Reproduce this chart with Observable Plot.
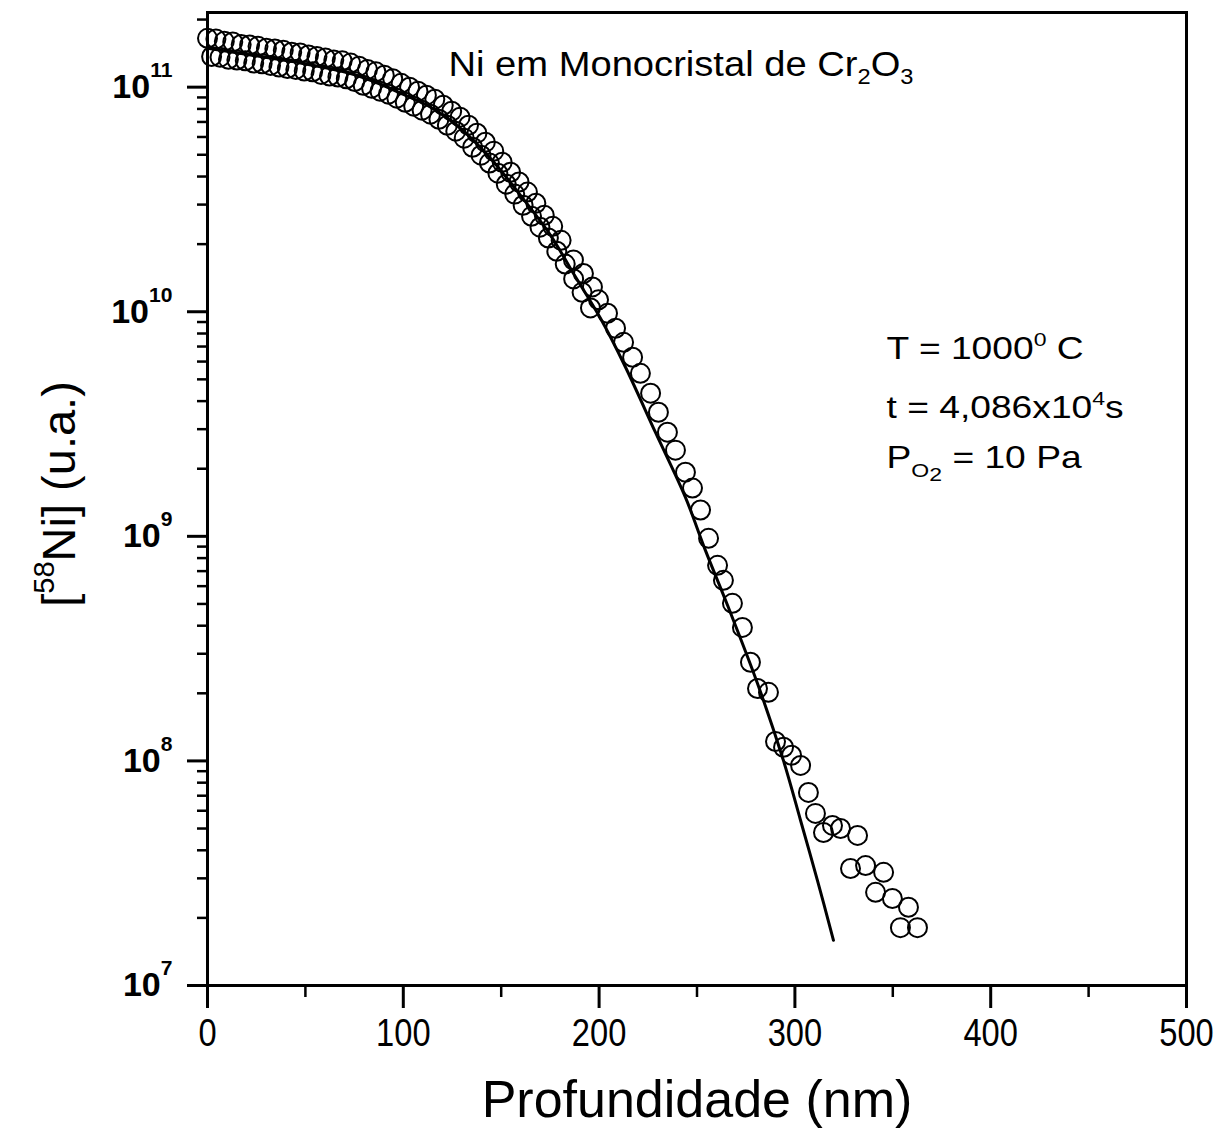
<!DOCTYPE html>
<html>
<head>
<meta charset="utf-8">
<script src="https://cdn.jsdelivr.net/npm/d3@7"></script>
<script src="https://cdn.jsdelivr.net/npm/@observablehq/plot@0.6"></script>
<style>
  html, body { margin: 0; padding: 0; background: #fff; }
  #chart { width: 1228px; height: 1142px; }
</style>
</head>
<body>
<div id="chart"></div>
<script>
// ---- data (depth in nm, concentration in a.u.) ----
const depthA = [0,4.3,8.6,12.9,17.2,21.5,25.8,30.1,34.4,38.7,43.0,47.3,51.6,55.9,60.2,64.5,68.8,73.1,77.4,81.7,86.0,90.3,94.6,98.9,103.2,107.5,111.8,116.1,120.4,124.7,129.0,133.3,137.6,141.9,146.2,150.5,154.8,159.1,163.4,167.7,172.0,176.3,180.6,
  186.9,192.0,196.6,199.7,204.3,208.4,212.5,217.1,221.1,226.3,230.3,234.9,239.0,244.1,247.7,251.8,255.9,260.5,263.5,268.1,273.2,277.3,280.9,286.5,290.1,294.2,298.3,302.9,306.9,310.5,314.6,319.2,323.3,328.4,332.0,336.1,341.2,345.3,349.8,353.9,358.0,362.6];
const concA = [1.65e11,1.64e11,1.60e11,1.59e11,1.55e11,1.54e11,1.52e11,1.49e11,1.48e11,1.46e11,1.43e11,1.42e11,1.39e11,1.37e11,1.35e11,1.32e11,1.31e11,1.28e11,1.24e11,1.20e11,1.17e11,1.13e11,1.09e11,1.04e11,1.00e11,9.60e10,9.21e10,8.84e10,8.31e10,7.82e10,7.35e10,6.77e10,6.24e10,5.69e10,5.19e10,4.63e10,4.18e10,3.78e10,3.41e10,3.04e10,2.69e10,2.40e10,2.08e10,
  1.70e10,1.48e10,1.29e10,1.13e10,9.85e9,8.44e9,7.31e9,6.27e9,5.32e9,4.34e9,3.57e9,2.91e9,2.42e9,1.93e9,1.64e9,1.31e9,9.80e8,7.43e8,6.37e8,5.03e8,3.93e8,2.75e8,2.10e8,2.02e8,1.22e8,1.15e8,1.06e8,9.55e7,7.24e7,5.84e7,4.80e7,5.16e7,5.00e7,3.32e7,4.66e7,3.42e7,2.60e7,3.19e7,2.44e7,1.81e7,2.23e7,1.81e7];

const depthB = [2.1,6.4,10.7,15.0,19.3,23.6,27.9,32.2,36.5,40.8,45.1,49.4,53.7,58.0,62.3,66.6,70.9,75.2,79.5,83.8,88.1,92.4,96.7,101.0,105.3,109.6,113.9,118.2,122.5,126.8,131.1,135.4,139.7,144.0,148.3,152.6,156.9,161.2,165.5,169.8,174.1,178.4,182.7,187.0,191.3,195.6];
const concB = [1.37e11,1.36e11,1.33e11,1.32e11,1.31e11,1.28e11,1.27e11,1.25e11,1.23e11,1.21e11,1.20e11,1.18e11,1.17e11,1.14e11,1.12e11,1.11e11,1.09e11,1.06e11,1.02e11,9.90e10,9.60e10,9.31e10,8.93e10,8.57e10,8.23e10,7.90e10,7.58e10,7.20e10,6.77e10,6.37e10,5.93e10,5.40e10,4.98e10,4.59e10,4.14e10,3.70e10,3.34e10,2.98e10,2.66e10,2.38e10,2.13e10,1.86e10,1.63e10,1.40e10,1.22e10,1.04e10];

const fitDepth = [0,22.0,47.5,73.0,88.4,98.6,114.9,129.2,144.5,159.8,175.2,186.9,200.7,213.5,228.8,244.1,254.3,265.6,280.9,294.2,302.9,311.5,319.7];
const fitConc  = [1.49e11,1.39e11,1.28e11,1.15e11,1.03e11,9.40e10,8.06e10,6.56e10,4.83e10,3.30e10,2.19e10,1.48e10,9.35e9,5.66e9,2.90e9,1.49e9,8.66e8,4.93e8,2.21e8,1.00e8,5.43e7,2.94e7,1.59e7];

const xTicks = [0,100,200,300,400,500];
const xMinorTicks = [50,150,250,350,450];
const yTicks = [1e7,1e8,1e9,1e10,1e11];
const yMinorTicks = [2e7,3e7,4e7,5e7,6e7,7e7,8e7,9e7,2e8,3e8,4e8,5e8,6e8,7e8,8e8,9e8,2e9,3e9,4e9,5e9,6e9,7e9,8e9,9e9,2e10,3e10,4e10,5e10,6e10,7e10,8e10,9e10,2e11];

const xLabel = "Profundidade (nm)";
const yLabel = "[^{58}Ni] (u.a.)";
const titleText = "Ni em Monocristal de Cr_{2}O_{3}";
const condTexts = ["T = 1000^{0} C", "t = 4,086x10^{4}s", "P_{O}~{2} = 10 Pa"];

// ---- tables built from the arrays ----
const rowsA = depthA.map((d, i) => ({depth: d, conc: concA[i]}));
const rowsB = depthB.map((d, i) => ({depth: d, conc: concB[i]}));
const fitRows = fitDepth.map((d, i) => ({depth: d, conc: fitConc[i]}));

const chart = Plot.plot({
  width: 1228,
  height: 1142,
  marginLeft: 207,
  marginRight: 42,
  marginTop: 12,
  marginBottom: 157,
  style: {fontFamily: "'Liberation Sans', Arial, sans-serif", background: "#fff", color: "#000"},
  x: {domain: [0, 500]},
  y: {type: "log", domain: [1e7, 2.15e11]},
  marks: [
    Plot.line(fitRows, {x: "depth", y: "conc", stroke: "#000", strokeWidth: 3, curve: "catmull-rom"}),
    Plot.dot(rowsB, {x: "depth", y: "conc", r: 9.5, stroke: "#000", strokeWidth: 2, fill: "none"}),
    Plot.dot(rowsA, {x: "depth", y: "conc", r: 9.5, stroke: "#000", strokeWidth: 2, fill: "none"}),
    Plot.frame({stroke: "#000", strokeWidth: 3}),
    Plot.axisX({ticks: xTicks, tickSize: 23, tickPadding: 11, strokeWidth: 3, fontSize: 38,
      label: null, tickFormat: d => String(d)}),
    Plot.axisX({ticks: xMinorTicks, tickSize: 12, strokeWidth: 2.5, label: null, tickFormat: () => ""}),
    Plot.axisY({ticks: yTicks, tickSize: 20, tickPadding: 15, strokeWidth: 3, fontSize: 34, fontWeight: "bold",
      label: null, tickFormat: d => `10^{${Math.round(Math.log10(d))}}`}),
    Plot.axisY({ticks: yMinorTicks, tickSize: 10, strokeWidth: 2.5, label: null, tickFormat: () => ""}),
    Plot.text([xLabel], {frameAnchor: "bottom", dy: 115, fontSize: 52, textAnchor: "middle", lineAnchor: "middle", text: d => d}),
    Plot.text([yLabel], {frameAnchor: "left", dx: -148, dy: -5, rotate: -90, fontSize: 47, textAnchor: "middle", lineAnchor: "middle", text: d => d}),
    Plot.text([titleText], {frameAnchor: "top-left", dx: 241, dy: 52, fontSize: 35, textAnchor: "start", lineAnchor: "middle", text: d => d}),
    Plot.text([condTexts[0]], {frameAnchor: "top-left", dx: 679, dy: 337, fontSize: 31, textAnchor: "start", lineAnchor: "middle", text: d => d}),
    Plot.text([condTexts[1]], {frameAnchor: "top-left", dx: 679, dy: 396, fontSize: 31, textAnchor: "start", lineAnchor: "middle", text: d => d}),
    Plot.text([condTexts[2]], {frameAnchor: "top-left", dx: 679, dy: 446, fontSize: 31, textAnchor: "start", lineAnchor: "middle", text: d => d})
  ]
});

document.getElementById("chart").appendChild(chart);

// ---- turn ^{..} / _{..} / ~{..} markup into real superscripts/subscripts ----
const NS = "http://www.w3.org/2000/svg";
function richify(t, supShift) {
  const s = t.textContent;
  if (!/[\^_~]\{/.test(s)) return;
  const fs = parseFloat(getComputedStyle(t).fontSize);
  const fw = getComputedStyle(t).fontWeight;
  while (t.firstChild) t.removeChild(t.firstChild);
  const re = /([\^_~])\{([^}]*)\}|([^\^_~]+)/g;
  let m;
  while ((m = re.exec(s))) {
    const ts = document.createElementNS(NS, "tspan");
    if (m[3] != null) {
      ts.textContent = m[3];
    } else {
      ts.textContent = m[2];
      ts.setAttribute("font-size", (fs * 0.62).toFixed(1));
      ts.setAttribute("font-weight", fw);
      let shift;
      if (m[1] === "^") shift = fs * supShift;
      else if (m[1] === "_") shift = -fs * 0.25;
      else shift = -fs * 0.42;
      ts.setAttribute("baseline-shift", shift.toFixed(1));
    }
    t.appendChild(ts);
  }
}
// horizontal stretch factors to mimic the wider / narrower glyphs of the original
const stretch = new Map([[titleText, 1.09], [condTexts[0], 1.2], [condTexts[1], 1.2], [condTexts[2], 1.2]]);
chart.querySelectorAll("text").forEach(t => {
  const s = t.textContent;
  if (stretch.has(s)) {
    const tr = t.getAttribute("transform") || "";
    t.setAttribute("transform", `${tr} scale(${stretch.get(s)},1)`);
  }
  const isTick = /^10\^\{/.test(s);
  richify(t, isTick ? 0.62 : 0.45);
});
// x tick labels are set in a condensed face in the original
chart.querySelectorAll('g[aria-label="x-axis tick label"] text').forEach(t => {
  const tr = t.getAttribute("transform") || "";
  t.setAttribute("transform", `${tr} scale(0.86,1)`);
});
</script>
</body>
</html>
